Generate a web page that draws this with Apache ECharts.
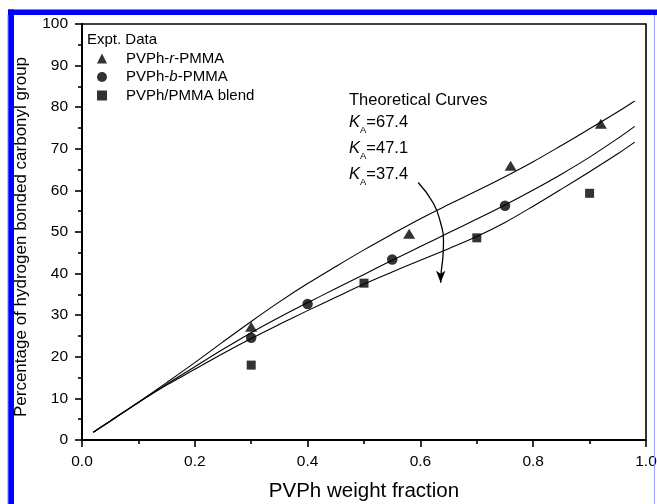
<!DOCTYPE html>
<html>
<head>
<meta charset="utf-8">
<script src="https://cdn.jsdelivr.net/npm/echarts@6/dist/echarts.min.js"></script>
<style>
html,body{margin:0;padding:0;background:#fff;}
#chart{width:657px;height:504px;}
</style>
</head>
<body>
<div id="chart"></div>
<script>
// ---- data ----
const xTickLabels = ['0.0','0.2','0.4','0.6','0.8','1.0'];
const yTickLabels = ['0','10','20','30','40','50','60','70','80','90','100'];

const curveX      = [0.02,0.05,0.10,0.15,0.20,0.25,0.30,0.35,0.40,0.45,0.50,0.55,0.60,0.65,0.70,0.75,0.80,0.85,0.90,0.95,0.98];
const curveKA674  = [1.85,4.6,9.1,13.8,18.6,23.6,28.5,33.2,37.6,41.7,45.7,49.5,53.2,56.6,59.9,63.3,66.9,70.8,74.8,78.9,81.5];
const curveKA471  = [1.85,4.5,9.0,13.4,17.6,21.8,25.8,29.5,33.0,36.4,39.8,43.2,46.5,49.8,53.1,56.5,60.1,63.9,68.0,72.5,75.4];
const curveKA374  = [1.85,4.5,9.0,13.2,17.0,20.8,24.4,27.8,31.1,34.3,37.5,40.4,43.2,46.0,48.9,52.3,56.2,60.3,64.5,68.8,71.6];

const randomX = [0.30,0.58,0.76,0.92];
const randomY = [27.2,49.6,65.9,76.0];
const blockX  = [0.30,0.40,0.55,0.75];
const blockY  = [24.6,32.7,43.4,56.3];
const blendX  = [0.30,0.50,0.70,0.90];
const blendY  = [18.0,37.7,48.6,59.3];

const arrowX = [0.596,0.623,0.636,0.641,0.640,0.637,0.636];
const arrowY = [61.9,56.9,52.1,48.1,44.1,40.5,37.8];

const curveLabels = ['67.4','47.1','37.4'];
const legendNames = ['PVPh-r-PMMA','PVPh-b-PMMA','PVPh/PMMA blend'];

const FONT = '"Liberation Sans", Arial, sans-serif';
const zip = (a,b) => a.map((v,i)=>[v,b[i]]);

const chart = echarts.init(document.getElementById('chart'), null, {renderer:'canvas'});

const curveSeries = [curveKA674, curveKA471, curveKA374].map((ys, i) => ({
  name: 'KA=' + curveLabels[i],
  type: 'line',
  data: zip(curveX, ys),
  smooth: 0.35,
  showSymbol: false,
  symbol: 'none',
  lineStyle: {color:'#000', width:1.1},
  silent: true,
  z: 2
}));

const arrowData = zip(arrowX, arrowY).map((p, i, arr) => i === arr.length - 1
  ? {value: p, symbol: 'arrow', symbolSize: [7, 12], symbolRotate: 180, itemStyle:{color:'#000'}}
  : {value: p, symbol: 'none'});

const rich = {
  base: {fontFamily: FONT, fontSize: 15, color:'#000'},
  i: {fontFamily: FONT, fontSize: 15, color:'#000', fontStyle:'italic'}
};

const option = {
  animation: false,
  backgroundColor: '#fff',
  textStyle: {fontFamily: FONT},
  grid: {left: 82, right: 11, top: 24, bottom: 64, containLabel: false, outerBoundsMode: 'none',
         show: true, borderColor:'#000', borderWidth: 1.6, backgroundColor:'transparent'},
  title: {
    text: 'Expt. Data', left: 82, top: 27,
    textStyle: {fontFamily: FONT, fontSize: 15, fontWeight:'normal', color:'#000'}
  },
  legend: {
    orient: 'vertical', left: 92, top: 46,
    itemWidth: 10, itemHeight: 10, itemGap: 3.5,
    data: [
      {name: legendNames[0], icon: 'triangle'},
      {name: legendNames[1], icon: 'circle'},
      {name: legendNames[2], icon: 'rect'}
    ],
    formatter: function(name){
      if (name === legendNames[0]) return '{base|PVPh-}{i|r}{base|-PMMA}';
      if (name === legendNames[1]) return '{base|PVPh-}{i|b}{base|-PMMA}';
      return '{base|' + name + '}';
    },
    textStyle: {fontFamily: FONT, fontSize: 15, color:'#000', padding:[0,0,0,14], rich: rich},
    selectedMode: false
  },
  xAxis: {
    type: 'value', min: 0, max: 1, interval: 0.2,
    name: 'PVPh weight fraction', nameLocation: 'middle', nameGap: 41,
    nameTextStyle: {fontFamily: FONT, fontSize: 20.5, color:'#000'},
    axisLine: {show: true, onZero: false, lineStyle: {color:'#000', width: 2}},
    axisTick: {show: true, inside: false, length: 7, lineStyle:{color:'#000', width: 1.6}},
    minorTick: {show: true, splitNumber: 2, length: 4, lineStyle:{color:'#000', width: 1.6}},
    splitLine: {show: false},
    axisLabel: {fontFamily: FONT, fontSize: 15.5, color:'#000', margin: 14,
      formatter: v => xTickLabels[Math.round(v/0.2)] }
  },
  yAxis: {
    type: 'value', min: 0, max: 100, interval: 10,
    name: 'Percentage of hydrogen bonded carbonyl group', nameLocation: 'middle', nameGap: 52,
    nameTextStyle: {fontFamily: FONT, fontSize: 17, color:'#000', padding:[0,10,0,0]},
    axisLine: {show: true, onZero: false, lineStyle: {color:'#000', width: 2}},
    axisTick: {show: true, inside: false, length: 7, lineStyle:{color:'#000', width: 1.6}},
    minorTick: {show: true, splitNumber: 2, length: 4, lineStyle:{color:'#000', width: 1.6}},
    splitLine: {show: false},
    axisLabel: {fontFamily: FONT, fontSize: 15.5, color:'#000', margin: 14,
      formatter: v => yTickLabels[Math.round(v/10)] }
  },
  graphic: [
    {type:'rect', shape:{x:8, y:9.5, width:649, height:5.5}, style:{fill:'#0000ff'}, silent:true, z:100},
    {type:'rect', shape:{x:8, y:9.5, width:6, height:495}, style:{fill:'#0000ff'}, silent:true, z:100},
    {type:'rect', shape:{x:7.5, y:15, width:1, height:489}, style:{fill:'#8080ff'}, silent:true, z:100},
    {type:'rect', shape:{x:654, y:15, width:1, height:489}, style:{fill:'#9a9aff'}, silent:true, z:100},
    {type:'text', left: 349, top: 92, style:{text:'Theoretical Curves', font:'16.5px ' + FONT, fill:'#000'}, z:50},
    ...curveLabels.map((v, i) => ({
      type:'text', left: 349, top: 114 + i*26,
      style:{
        text: '{k|K}{s|A}{n|=' + v + '}',
        rich: {
          k: {fontFamily: FONT, fontSize: 16.5, fontStyle:'italic', fill:'#000', verticalAlign:'bottom', lineHeight: 20},
          s: {fontFamily: FONT, fontSize: 9.5, fill:'#000', verticalAlign:'bottom', padding:[0,0,-4,0], lineHeight: 20},
          n: {fontFamily: FONT, fontSize: 16.5, fill:'#000', verticalAlign:'bottom', lineHeight: 20}
        }
      },
      z: 50
    }))
  ],
  series: [
    ...curveSeries,
    {
      name: 'arrow', type: 'line', data: arrowData, smooth: 0.5,
      showSymbol: true, symbol: 'none',
      lineStyle: {color:'#000', width: 1.3}, silent: true, z: 3
    },
    {name: legendNames[0], type:'scatter', data: zip(randomX, randomY), symbol:'triangle', symbolSize:[12,10], itemStyle:{color:'#000'}, z:5},
    {name: legendNames[1], type:'scatter', data: zip(blockX, blockY), symbol:'circle', symbolSize:10.5, itemStyle:{color:'#000'}, z:5},
    {name: legendNames[2], type:'scatter', data: zip(blendX, blendY), symbol:'rect', symbolSize:9, itemStyle:{color:'#000'}, z:5}
  ]
};
chart.setOption(option);
</script>
</body>
</html>
